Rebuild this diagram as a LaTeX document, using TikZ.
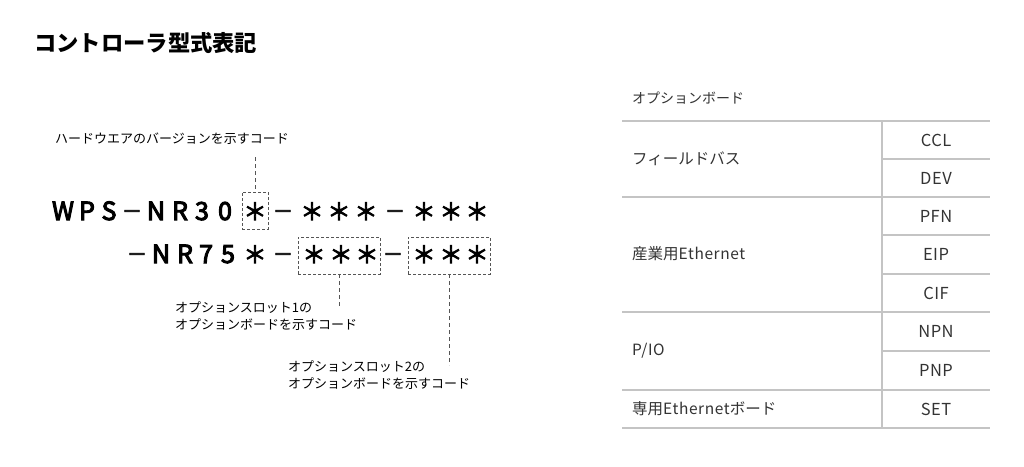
\documentclass[tikz,border=0pt]{standalone}
\usepackage{fontspec}
\setmainfont{Noto Sans CJK JP}
\newfontfamily\codefont{Noto Sans CJK JP}[FakeBold=4]
\usepackage{xcolor}
\usetikzlibrary{positioning,calc}
\definecolor{ruleGray}{HTML}{C4C4C4}
\definecolor{textGray}{HTML}{333333}
\definecolor{guideGray}{HTML}{555555}
\newcommand\codestar{{\fontsize{23}{23}\selectfont ＊}}
\newcommand\codedash{\raisebox{1.5pt}{\fontsize{20}{20}\selectfont －}}

\begin{document}
\begin{tikzpicture}[x=1pt,y=-1pt,
  code/.style={anchor=base,inner sep=0pt,font=\codefont\fontsize{25}{25}\selectfont},
  slotbox/.style={draw=guideGray,dash pattern=on 3pt off 2pt,line width=0.8pt,inner sep=0pt,minimum height=37pt},
  guide/.style={draw=guideGray,dash pattern=on 4pt off 3pt,line width=0.8pt},
  note/.style={anchor=west,inner sep=0pt,font=\fontsize{13}{17}\selectfont,align=left},
  cell/.style={inner sep=0pt,font=\fontsize{15.5}{16}\selectfont,text=textGray},
  rule/.style={draw=ruleGray,line width=1.5pt}]
  \useasboundingbox (0,0) rectangle (1024,466);
  \node[anchor=west,inner sep=0pt,font=\fontsize{22.3}{24}\selectfont\bfseries] (title) at (34,43) {コントローラ型式表記};

  \foreach \x/\c [count=\i] in {63/W,87/P,109/S,132/\codedash,156/N,180/R,202/3,225/0,255/\codestar,283/\codedash,312/\codestar,339/\codestar,366/\codestar,395/\codedash,424/\codestar,451/\codestar,477/\codestar}
    \node[code] (top\i) at (\x,220) {\c};
  \foreach \x/\c [count=\i] in {137/\codedash,161/N,185/R,206/7,228/5,255/\codestar,283/\codedash,314/\codestar,341/\codestar,367/\codestar,393/\codedash,424/\codestar,451/\codestar,477/\codestar}
    \node[code] (bot\i) at (\x,263) {\c};

  \node[slotbox,minimum width=26pt] (hwbox) at (255,210.5) {};
  \node[slotbox,minimum width=82pt] (slotAbox) at (339,255.5) {};
  \node[slotbox,minimum width=82pt] (slotBbox) at (449,255.5) {};

  \node[note] (hwnote) at (55,139) {ハードウエアのバージョンを示すコード};
  \node[note] (slotAnote) at (175,316.5) {オプションスロット1の\\オプションボードを示すコード};
  \node[note] (slotBnote) at (288,375.5) {オプションスロット2の\\オプションボードを示すコード};

  \coordinate (hwtip) at (255,157);
  \coordinate (slotAtip) at ($(slotAbox.south)+(0,34)$);
  \coordinate (slotBtip) at ($(slotBbox.south)+(0,91)$);
  \draw[guide] (hwtip) -- (hwbox.north);
  \draw[guide] (slotAbox.south) -- (slotAtip);
  \draw[guide] (slotBbox.south) -- (slotBtip);

  \node[cell,anchor=west,font=\fontsize{14}{16}\selectfont] (boardhead) at (632,98) {オプションボード};
  \foreach \y in {121,197,312,390,428}
    \draw[rule] (622,\y) -- (990,\y);
  \foreach \y in {159,235,274,351}
    \draw[rule] (882,\y) -- (990,\y);
  \draw[rule] (882,121) -- (882,428);
  \foreach \y/\t [count=\i] in {159/フィールドバス,254/産業用\addfontfeature{LetterSpace=4}Ethernet,351/{\addfontfeature{LetterSpace=4}P/IO},409/専用{\addfontfeature{LetterSpace=4}Ethernet}ボード}
    \node[cell,anchor=west] (group\i) at (632,\y) {\t};
  \foreach \y/\t [count=\i] in {140/CCL,178/DEV,216/PFN,254/EIP,293/CIF,331/NPN,370/PNP,409/SET}
    \node[cell,font=\fontsize{16.5}{17}\selectfont\addfontfeature{LetterSpace=3}] (board\i) at (936,\y) {\t};
\end{tikzpicture}
\end{document}
